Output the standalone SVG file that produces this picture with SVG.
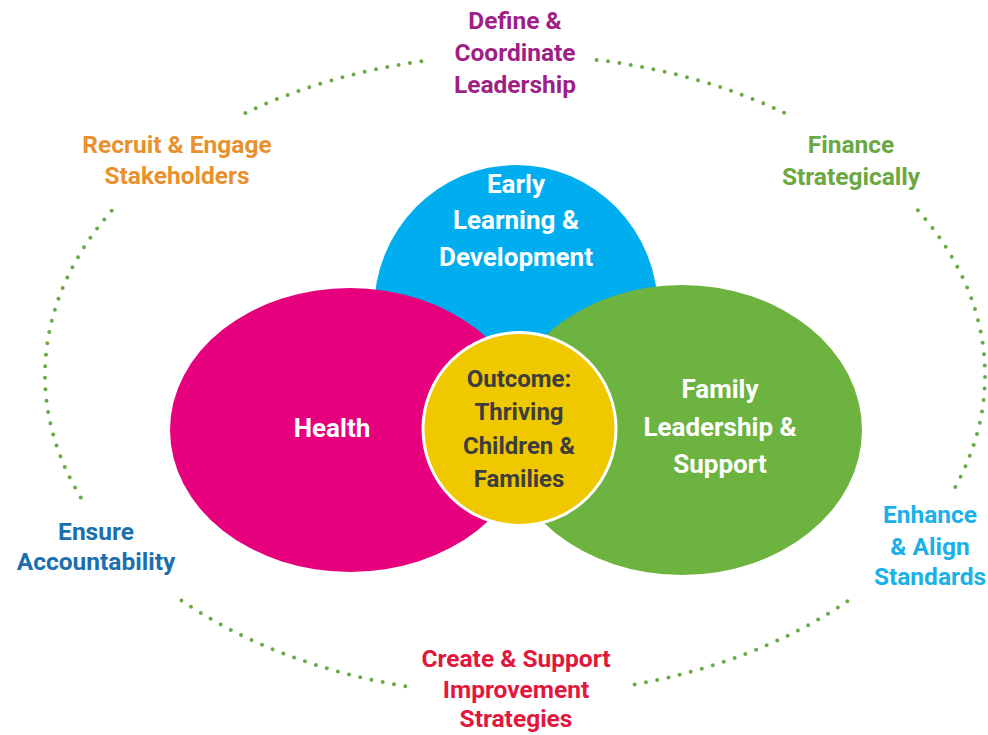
<svg xmlns="http://www.w3.org/2000/svg" width="988" height="735" viewBox="0 0 988 735">
<style>
text{font-family:Roboto,"Liberation Sans",sans-serif;font-weight:bold;text-anchor:middle}
.in{fill:#ffffff;font-size:26px}
.out{font-size:24.5px}
.ring{fill:none;stroke:#6aaa46;stroke-width:4;stroke-linecap:round;stroke-dasharray:0 11.5}
</style>
<rect width="988" height="735" fill="#ffffff"/>
<g id="ring">
<path class="ring" d="M245.4,112.9 A470,320 0 0 1 430.2,60.2"/>
<path class="ring" d="M80.8,497.5 A470,320 0 0 1 116.4,205.4"/>
<path class="ring" d="M405.3,686.2 A470,320 0 0 1 176.9,597.3"/>
<path class="ring" d="M847.3,601.3 A470,320 0 0 1 624.7,686.2"/>
<path class="ring" d="M917.9,210.2 A470,320 0 0 1 953.8,489.7"/>
<path class="ring" d="M596.6,59.9 A470,320 0 0 1 784.6,112.9"/>
</g>
<g id="early-learning">
<ellipse cx="516" cy="310" rx="142" ry="145" fill="#00aeef"/>
<text class="in" x="516" y="193">Early</text>
<text class="in" x="516" y="229">Learning &amp;</text>
<text class="in" x="516" y="266">Development</text>
</g>
<g id="health">
<ellipse cx="350" cy="430" rx="180" ry="142" fill="#e6007e"/>
<text class="in" x="332" y="437">Health</text>
</g>
<g id="family">
<ellipse cx="682" cy="430" rx="180" ry="145" fill="#6db33f"/>
<text class="in" x="720" y="398">Family</text>
<text class="in" x="720" y="436">Leadership &amp;</text>
<text class="in" x="720" y="473">Support</text>
</g>
<g id="outcome">
<circle cx="519.5" cy="429" r="96.5" fill="#efc800" stroke="#ffffff" stroke-width="3"/>
<text class="in" x="519" y="387" style="fill:#3d3d3d;font-size:24px">Outcome:</text>
<text class="in" x="519" y="420" style="fill:#3d3d3d;font-size:24px">Thriving</text>
<text class="in" x="519" y="454" style="fill:#3d3d3d;font-size:24px">Children &amp;</text>
<text class="in" x="519" y="487" style="fill:#3d3d3d;font-size:24px">Families</text>
</g>
<g id="define">
<text class="out" x="515" y="29" fill="#9e1f86">Define &amp;</text>
<text class="out" x="515" y="61" fill="#9e1f86">Coordinate</text>
<text class="out" x="515" y="93" fill="#9e1f86">Leadership</text>
</g>
<g id="recruit">
<text class="out" x="177" y="153" fill="#e8912d">Recruit &amp; Engage</text>
<text class="out" x="177" y="184" fill="#e8912d">Stakeholders</text>
</g>
<g id="finance">
<text class="out" x="851" y="153" fill="#6aa842">Finance</text>
<text class="out" x="851" y="185" fill="#6aa842">Strategically</text>
</g>
<g id="enhance">
<text class="out" x="930" y="523" fill="#1ab0e8">Enhance</text>
<text class="out" x="930" y="555" fill="#1ab0e8">&amp; Align</text>
<text class="out" x="930" y="585" fill="#1ab0e8">Standards</text>
</g>
<g id="create">
<text class="out" x="516" y="667" fill="#e3173e">Create &amp; Support</text>
<text class="out" x="516" y="698" fill="#e3173e">Improvement</text>
<text class="out" x="516" y="727" fill="#e3173e">Strategies</text>
</g>
<g id="ensure">
<text class="out" x="96" y="540" fill="#1b6fae">Ensure</text>
<text class="out" x="96" y="570" fill="#1b6fae">Accountability</text>
</g>
</svg>
